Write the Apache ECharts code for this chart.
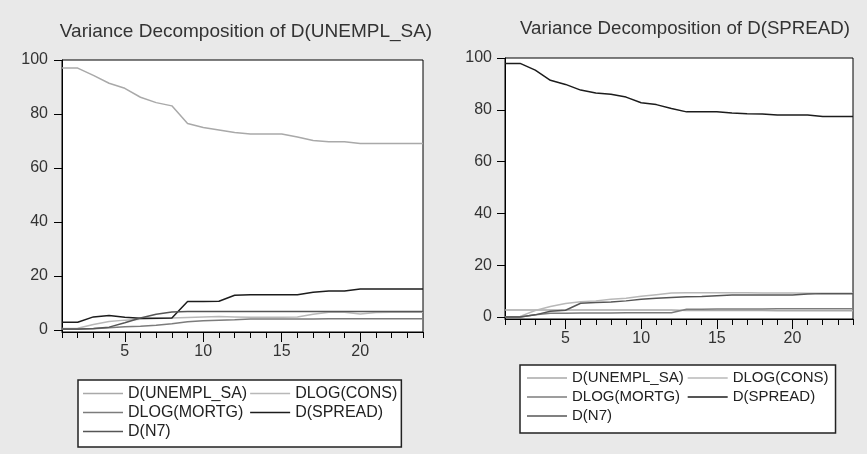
<!DOCTYPE html>
<html>
<head>
<meta charset="utf-8">
<script src="https://cdn.jsdelivr.net/npm/echarts@6/dist/echarts.min.js"></script>
<style>
  html, body { margin: 0; padding: 0; background: #e9e9e9; }
  #chart { width: 867px; height: 454px; }
</style>
</head>
<body>
<div id="chart"></div>
<script>
// periods 1..24
const periods = [1, 2, 3, 4, 5, 6, 7, 8, 9, 10, 11, 12, 13, 14, 15, 16, 17, 18, 19, 20, 21, 22, 23, 24];
const xTickLabels = [5, 10, 15, 20];
const yTickLabels = [0, 20, 40, 60, 80, 100];
const seriesNames = ['D(UNEMPL_SA)', 'DLOG(CONS)', 'DLOG(MORTG)', 'D(SPREAD)', 'D(N7)'];

// Variance Decomposition of D(UNEMPL_SA)
const unemplL = [97.0, 97.0, 94.3, 91.4, 89.5, 86.2, 84.2, 83.0, 76.5, 75.0, 74.1, 73.1, 72.6, 72.6, 72.6, 71.5, 70.2, 69.7, 69.7, 69.1, 69.1, 69.1, 69.1, 69.1];
const consL   = [0.5, 0.6, 2.0, 3.1, 3.6, 3.9, 4.2, 4.4, 4.6, 4.8, 4.9, 4.8, 4.7, 4.7, 4.7, 4.8, 5.8, 6.5, 6.5, 5.9, 6.4, 6.5, 6.5, 6.5];
const mortgL  = [0.2, 0.2, 0.4, 0.8, 1.1, 1.3, 1.7, 2.3, 3.0, 3.4, 3.6, 3.7, 4.0, 4.0, 4.0, 4.0, 4.0, 4.1, 4.1, 4.1, 4.1, 4.1, 4.1, 4.1];
const spreadL = [2.8, 2.8, 4.8, 5.3, 4.7, 4.3, 4.3, 4.4, 10.5, 10.5, 10.6, 12.8, 13.0, 13.0, 13.0, 13.0, 13.9, 14.4, 14.4, 15.1, 15.1, 15.1, 15.1, 15.1];
const n7L     = [0.3, 0.3, 0.5, 1.0, 2.6, 4.4, 5.8, 6.6, 6.8, 6.8, 6.8, 6.8, 6.8, 6.8, 6.8, 6.8, 6.8, 6.8, 6.8, 6.8, 6.8, 6.8, 6.8, 6.8];

// Variance Decomposition of D(SPREAD)
const unemplR = [2.7, 2.7, 2.7, 2.7, 2.7, 2.7, 2.7, 2.7, 2.7, 2.7, 2.7, 2.7, 2.5, 2.5, 2.5, 2.5, 2.5, 2.5, 2.4, 2.4, 2.4, 2.4, 2.4, 2.4];
const consR   = [0.0, 0.2, 2.5, 4.0, 5.2, 5.9, 6.2, 6.8, 7.2, 8.0, 8.6, 9.2, 9.3, 9.3, 9.3, 9.3, 9.3, 9.2, 9.2, 9.2, 9.1, 9.1, 9.1, 9.1];
const mortgR  = [0.0, 0.0, 0.8, 1.4, 1.4, 1.5, 1.5, 1.5, 1.6, 1.6, 1.6, 1.6, 3.0, 3.0, 3.1, 3.1, 3.1, 3.1, 3.2, 3.2, 3.2, 3.2, 3.2, 3.2];
const spreadR = [97.9, 97.9, 95.3, 91.4, 89.8, 87.6, 86.5, 86.0, 84.9, 82.7, 82.0, 80.5, 79.2, 79.2, 79.2, 78.8, 78.5, 78.4, 78.0, 78.0, 78.0, 77.4, 77.4, 77.4];
const n7R     = [0.0, 0.0, 0.8, 2.2, 2.6, 5.3, 5.6, 5.8, 6.2, 6.8, 7.2, 7.5, 7.8, 7.9, 8.2, 8.5, 8.5, 8.5, 8.5, 8.5, 8.9, 9.0, 9.0, 9.0];

const colors = ['#a9a9a9', '#b8b8b8', '#7c7c7c', '#1c1c1c', '#565656'];
const font = "'Liberation Sans', Arial, sans-serif";
// names in the first legend column get a fixed width so the second column lines up
const firstColumn = ['D(UNEMPL_SA)', 'DLOG(MORTG)', 'D(N7)'];

const myChart = echarts.init(document.getElementById('chart'));

function pairs(arr) {
    return periods.map((p, i) => [p, arr[i]]);
}

function makeSeries(arrs, gridIndex) {
    return arrs.map((arr, k) => ({
        name: seriesNames[k],
        type: 'line',
        xAxisIndex: gridIndex * 2,
        yAxisIndex: gridIndex,
        symbol: 'none',
        silent: true,
        lineStyle: { color: colors[k], width: 1.5 },
        itemStyle: { color: colors[k] },
        data: pairs(arr)
    }));
}

function xAxes(gridIndex, labelMargin) {
    return [
        {
            type: 'value',
            gridIndex: gridIndex,
            position: 'bottom',
            min: 1,
            max: 24,
            interval: 1,
            axisLine: { onZero: false, lineStyle: { color: '#000', width: 1 } },
            axisTick: { length: 6, lineStyle: { color: '#000' } },
            axisLabel: {
                customValues: xTickLabels,
                margin: labelMargin,
                color: '#333',
                fontSize: 16,
                fontFamily: font
            },
            splitLine: { show: false }
        },
        {
            // longer ticks at the labelled periods
            type: 'value',
            gridIndex: gridIndex,
            position: 'bottom',
            offset: 0,
            min: 1,
            max: 24,
            axisLine: { show: false, onZero: false },
            axisTick: { customValues: xTickLabels, length: 10, lineStyle: { color: '#000' } },
            axisLabel: { show: false },
            splitLine: { show: false }
        }
    ];
}

function yAxis(gridIndex, min, max, labelMargin) {
    return {
        type: 'value',
        gridIndex: gridIndex,
        min: min,
        max: max,
        axisLine: { show: true, lineStyle: { color: '#000', width: 1 } },
        axisTick: { show: true, customValues: yTickLabels, length: 8, lineStyle: { color: '#000' } },
        axisLabel: {
            customValues: yTickLabels,
            margin: labelMargin,
            color: '#333',
            fontSize: 16,
            fontFamily: font
        },
        splitLine: { show: false }
    };
}

function legendFor(left, top, padding, colWidth, fontSize, gap) {
    return {
        orient: 'vertical',
        left: left,
        top: top,
        height: 60,
        padding: padding,
        itemGap: gap,
        itemWidth: 40,
        itemHeight: 1.5,
        icon: 'rect',
        borderColor: '#222',
        borderWidth: 1.5,
        backgroundColor: '#fff',
        selectedMode: false,
        formatter: name => (firstColumn.indexOf(name) >= 0 ? '{a|' + name + '}' : '{b|' + name + '}'),
        textStyle: {
            color: '#222',
            fontSize: fontSize,
            fontFamily: font,
            rich: {
                a: { width: colWidth, fontSize: fontSize, fontFamily: font, color: '#222' },
                b: { fontSize: fontSize, fontFamily: font, color: '#222' }
            }
        },
        data: firstColumn.concat(['DLOG(CONS)', 'D(SPREAD)'])
    };
}

myChart.setOption({
    backgroundColor: '#e9e9e9',
    animation: false,
    title: [
        {
            text: 'Variance Decomposition of D(UNEMPL_SA)',
            left: 241,
            top: 17,
            textAlign: 'center',
            textStyle: { color: '#333', fontSize: 19, fontWeight: 'normal', fontFamily: font }
        },
        {
            text: 'Variance Decomposition of D(SPREAD)',
            left: 680,
            top: 14,
            textAlign: 'center',
            textStyle: { color: '#333', fontSize: 18.7, fontWeight: 'normal', fontFamily: font }
        }
    ],
    legend: [
        legendFor(78, 380, [5.5, 4, 7.5, 5], 122, 16, 3),
        legendFor(520, 365, [5.5, 7, 9.5, 7], 114, 15, 4)
    ],
    grid: [
        { left: 62, right: 444, top: 60, bottom: 122, show: true, backgroundColor: '#fff', borderColor: '#000', borderWidth: 1 },
        { left: 505, right: 14, top: 58, bottom: 135, show: true, backgroundColor: '#fff', borderColor: '#000', borderWidth: 1 }
    ],
    xAxis: xAxes(0, 12).concat(xAxes(1, 12)),
    yAxis: [yAxis(0, -0.8, 100, 14), yAxis(1, -0.8, 100, 13)],
    series: makeSeries([unemplL, consL, mortgL, spreadL, n7L], 0)
        .concat(makeSeries([unemplR, consR, mortgR, spreadR, n7R], 1))
});

window.addEventListener('resize', () => {
    myChart.resize();
});
</script>
</body>
</html>
